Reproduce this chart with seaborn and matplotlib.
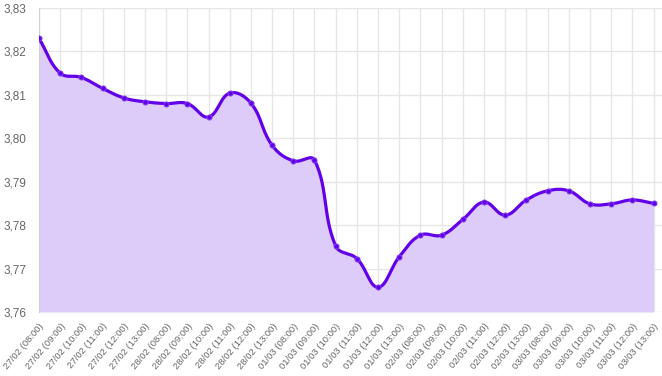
import numpy as np
import pandas as pd
import matplotlib
matplotlib.use('Agg')
import matplotlib.pyplot as plt
import seaborn as sns

days = ['27/02', '28/02', '01/03', '02/03', '03/03']
hours = ['08:00', '09:00', '10:00', '11:00', '12:00', '13:00']
labels = [f"{d} ({h})" for d in days for h in hours]

values = [3.8230, 3.8150, 3.8140, 3.8115, 3.8093, 3.8084,
          3.8080, 3.8080, 3.8049, 3.8104, 3.8081, 3.7984,
          3.7948, 3.7950, 3.7752, 3.7723, 3.7657, 3.7727,
          3.7777, 3.7777, 3.7813, 3.7853, 3.7823, 3.7858,
          3.7879, 3.7879, 3.7849, 3.7849, 3.7858, 3.7850]

line_color = '#6200EA'
fill_color = '#DDCCF9'
grid_color = '#E6E6E6'

df = pd.DataFrame({'idx': np.arange(len(values)), 'value': values})

# smooth curve like a chart.js line with tension 0.4 (computed in pixel space)
sx, sy = 21.17, 4343.0
px = df['idx'].to_numpy() * sx
py = df['value'].to_numpy() * sy
n = len(px)
tension = 0.4
cp_prev = np.zeros((n, 2))
cp_next = np.zeros((n, 2))
for i in range(n):
    p0 = np.array([px[max(i - 1, 0)], py[max(i - 1, 0)]])
    p1 = np.array([px[i], py[i]])
    p2 = np.array([px[min(i + 1, n - 1)], py[min(i + 1, n - 1)]])
    d01 = np.hypot(*(p1 - p0))
    d12 = np.hypot(*(p2 - p1))
    tot = d01 + d12
    s01 = d01 / tot if tot else 0
    s12 = d12 / tot if tot else 0
    cp_prev[i] = p1 - tension * s01 * (p2 - p0)
    cp_next[i] = p1 + tension * s12 * (p2 - p0)

t = np.linspace(0, 1, 30)[:, None]
segs = []
for i in range(n - 1):
    a = np.array([px[i], py[i]])
    b = cp_next[i]
    c = cp_prev[i + 1]
    d = np.array([px[i + 1], py[i + 1]])
    seg = (1 - t) ** 3 * a + 3 * (1 - t) ** 2 * t * b + 3 * (1 - t) * t ** 2 * c + t ** 3 * d
    segs.append(seg if i == 0 else seg[1:])
curve = np.vstack(segs)
smooth = pd.DataFrame({'idx': curve[:, 0] / sx, 'value': curve[:, 1] / sy})

sns.set_style('white')
plt.rcParams['font.family'] = ['Liberation Sans', 'DejaVu Sans']

fig = plt.figure(figsize=(6.62, 3.76), dpi=100)
ax = fig.add_axes([39 / 662, 1 - 312 / 376, 1 - 39 / 662, 304 / 376])

ax.fill_between(smooth['idx'], smooth['value'], 3.76, color=fill_color, lw=0, zorder=1)
sns.lineplot(data=smooth, x='idx', y='value', ax=ax, color=line_color, lw=2.3, zorder=3,
             sort=False, estimator=None)
sns.scatterplot(data=df, x='idx', y='value', ax=ax, color=line_color, s=14,
                edgecolor='#8A4DF0', linewidth=0.6, zorder=4)

ax.set_xlim(0, 29.4)
ax.set_ylim(3.76, 3.83)
yt = np.round(np.arange(3.76, 3.8301, 0.01), 2)
ax.set_yticks(yt)
ax.set_yticklabels([f"{v:.2f}".replace('.', ',') for v in yt], fontsize=8.5, color='#666666')
ax.set_xticks(df['idx'])
ax.set_xticklabels(labels, rotation=50, ha='right', rotation_mode='anchor',
                   fontsize=6.8, color='#666666')
ax.tick_params(axis='x', length=6, color=grid_color, width=1, pad=1)
ax.tick_params(axis='y', length=7, color=grid_color, width=1, pad=2)
ax.grid(True, color=grid_color, lw=1, zorder=0)
ax.set_axisbelow(True)
for s in ['top', 'right', 'bottom']:
    ax.spines[s].set_visible(False)
ax.spines['left'].set_color('#D0D0D0')
ax.set_xlabel('')
ax.set_ylabel('')

fig.savefig('out.png', dpi=100)
